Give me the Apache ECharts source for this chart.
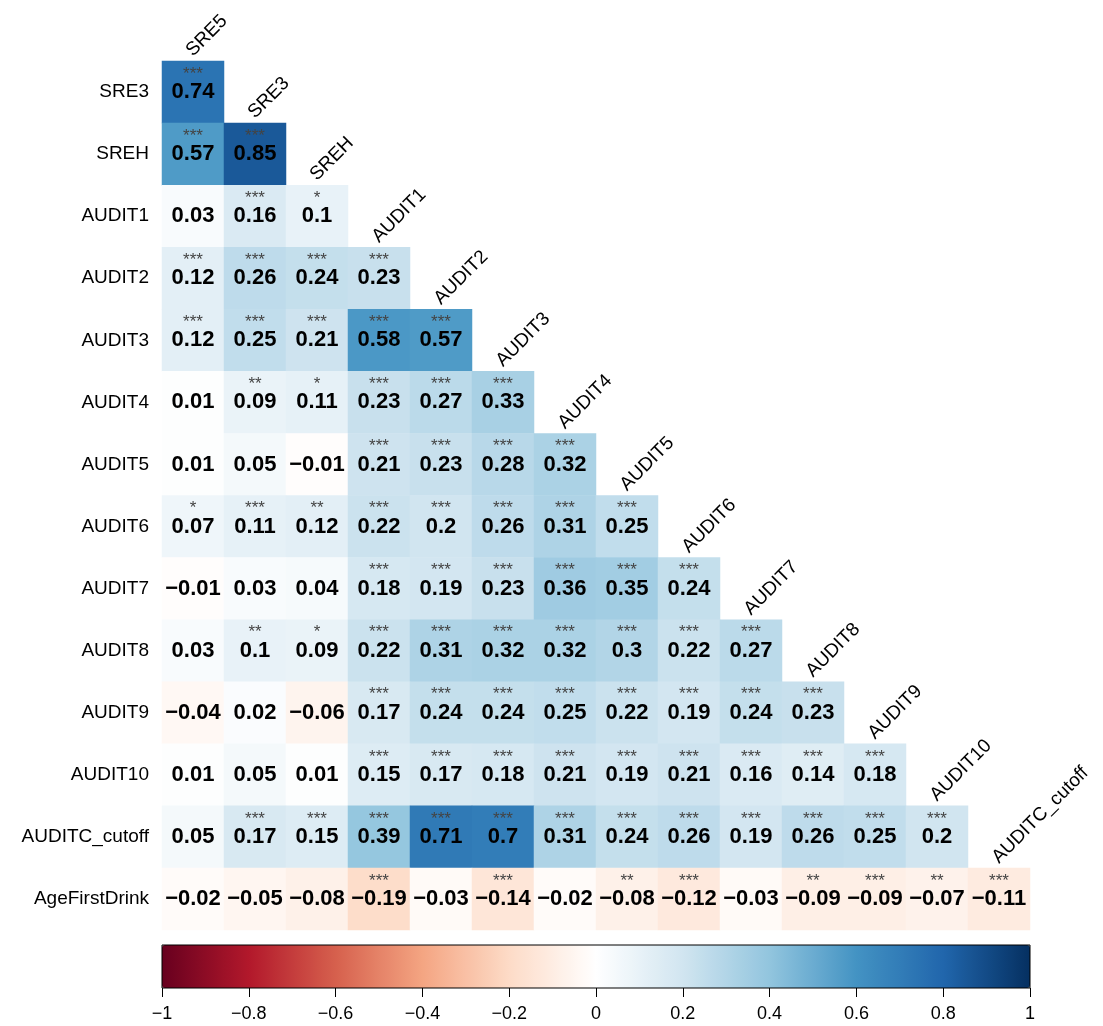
<!DOCTYPE html>
<html>
<head>
<meta charset="utf-8">
<script src="https://cdn.jsdelivr.net/npm/echarts@6/dist/echarts.min.js"></script>
<style>
  html, body { margin: 0; padding: 0; background: #fff; }
  #chart { width: 1103px; height: 1026px; }
</style>
</head>
<body>
<div id="chart"></div>
<script>
// row / column names of the lower triangle
const rowNames = ['SRE3', 'SREH', 'AUDIT1', 'AUDIT2', 'AUDIT3', 'AUDIT4', 'AUDIT5', 'AUDIT6',
  'AUDIT7', 'AUDIT8', 'AUDIT9', 'AUDIT10', 'AUDITC_cutoff', 'AgeFirstDrink'];
const colNames = ['SRE5', 'SRE3', 'SREH', 'AUDIT1', 'AUDIT2', 'AUDIT3', 'AUDIT4', 'AUDIT5',
  'AUDIT6', 'AUDIT7', 'AUDIT8', 'AUDIT9', 'AUDIT10', 'AUDITC_cutoff'];

// correlations, one row each
const corrRows = [
  [0.74],
  [0.57, 0.85],
  [0.03, 0.16, 0.1],
  [0.12, 0.26, 0.24, 0.23],
  [0.12, 0.25, 0.21, 0.58, 0.57],
  [0.01, 0.09, 0.11, 0.23, 0.27, 0.33],
  [0.01, 0.05, -0.01, 0.21, 0.23, 0.28, 0.32],
  [0.07, 0.11, 0.12, 0.22, 0.2, 0.26, 0.31, 0.25],
  [-0.01, 0.03, 0.04, 0.18, 0.19, 0.23, 0.36, 0.35, 0.24],
  [0.03, 0.1, 0.09, 0.22, 0.31, 0.32, 0.32, 0.3, 0.22, 0.27],
  [-0.04, 0.02, -0.06, 0.17, 0.24, 0.24, 0.25, 0.22, 0.19, 0.24, 0.23],
  [0.01, 0.05, 0.01, 0.15, 0.17, 0.18, 0.21, 0.19, 0.21, 0.16, 0.14, 0.18],
  [0.05, 0.17, 0.15, 0.39, 0.71, 0.7, 0.31, 0.24, 0.26, 0.19, 0.26, 0.25, 0.2],
  [-0.02, -0.05, -0.08, -0.19, -0.03, -0.14, -0.02, -0.08, -0.12, -0.03, -0.09, -0.09, -0.07, -0.11]
];

// number of significance stars per cell
const starRows = [
  [3],
  [3, 3],
  [0, 3, 1],
  [3, 3, 3, 3],
  [3, 3, 3, 3, 3],
  [0, 2, 1, 3, 3, 3],
  [0, 0, 0, 3, 3, 3, 3],
  [1, 3, 2, 3, 3, 3, 3, 3],
  [0, 0, 0, 3, 3, 3, 3, 3, 3],
  [0, 2, 1, 3, 3, 3, 3, 3, 3, 3],
  [0, 0, 0, 3, 3, 3, 3, 3, 3, 3, 3],
  [0, 0, 0, 3, 3, 3, 3, 3, 3, 3, 3, 3],
  [0, 3, 3, 3, 3, 3, 3, 3, 3, 3, 3, 3, 3],
  [0, 0, 0, 3, 0, 3, 0, 2, 3, 0, 2, 3, 2, 3]
];

// RdBu palette
const rdbu = ['#67001F', '#B2182B', '#D6604D', '#F4A582', '#FDDBC7', '#FFFFFF',
  '#D1E5F0', '#92C5DE', '#4393C3', '#2166AC', '#053061'];

const FONT = 'Liberation Sans, Arial, Helvetica, sans-serif';
const minus = s => s.replace('-', '\u2212');

const cells = [];
const stars = [];
corrRows.forEach((row, r) => {
  row.forEach((v, c) => {
    cells.push([c, r, v]);
    if (starRows[r][c] > 0) stars.push([c, r, '*'.repeat(starRows[r][c])]);
  });
});
const colLabels = colNames.map((n, c) => [c, c, n]);

const chart = echarts.init(document.getElementById('chart'));
chart.setOption({
  animation: false,
  backgroundColor: '#fff',
  textStyle: { fontFamily: FONT },
  grid: [
    { left: 162, top: 61, width: 868, height: 869 },
    { left: 162, top: 945, width: 868, height: 43, show: true,
      borderColor: '#000', borderWidth: 1, backgroundColor: 'transparent', z: 10 }
  ],
  xAxis: [
    { type: 'category', gridIndex: 0, data: colNames,
      axisLine: { show: false }, axisTick: { show: false }, axisLabel: { show: false },
      splitLine: { show: false } },
    { type: 'value', gridIndex: 1, min: -1, max: 1, interval: 0.2, position: 'bottom',
      axisLine: { show: false },
      axisTick: { show: true, inside: false, length: 9, lineStyle: { color: '#000', width: 1 } },
      axisLabel: { fontSize: 18, color: '#000', margin: 17, fontFamily: FONT,
        formatter: v => Math.abs(v) < 1e-9 ? '0' : minus(String(+v.toFixed(1))) },
      splitLine: { show: false } }
  ],
  yAxis: [
    { type: 'category', gridIndex: 0, data: rowNames, inverse: true,
      axisLine: { show: false }, axisTick: { show: false },
      axisLabel: { fontSize: 19, color: '#000', margin: 13, fontFamily: FONT },
      splitLine: { show: false } },
    { type: 'value', gridIndex: 1, show: false }
  ],
  visualMap: {
    type: 'continuous', seriesIndex: 0, min: -1, max: 1,
    orient: 'horizontal', left: 162, top: 945, padding: 0,
    itemWidth: 43, itemHeight: 868, calculable: false, realtime: false,
    showLabel: false, text: null, hoverLink: false,
    inRange: { color: rdbu }
  },
  series: [
    {
      type: 'heatmap', xAxisIndex: 0, yAxisIndex: 0, data: cells,
      itemStyle: { borderWidth: 0 },
      emphasis: { disabled: true },
      label: {
        show: true, fontSize: 22, fontWeight: 'bold', color: '#000', fontFamily: FONT,
        formatter: p => minus(String(p.value[2]))
      }
    },
    {
      type: 'custom', xAxisIndex: 0, yAxisIndex: 0, data: stars, silent: true, z: 5,
      renderItem: (params, api) => {
        const p = api.coord([api.value(0), api.value(1)]);
        return {
          type: 'text', x: p[0], y: p[1] - 18,
          style: { text: stars[params.dataIndex][2], fill: '#444', fontSize: 17,
            fontFamily: FONT, align: 'center', verticalAlign: 'middle' }
        };
      }
    },
    {
      type: 'custom', xAxisIndex: 0, yAxisIndex: 0, data: colLabels, silent: true, z: 5,
      renderItem: (params, api) => {
        const p = api.coord([api.value(0), api.value(1)]);
        const s = api.size([1, 1]);
        return {
          type: 'text', x: p[0] + 3, y: p[1] - s[1] / 2 - 1, rotation: Math.PI / 4,
          style: { text: colLabels[params.dataIndex][2], fill: '#000', fontSize: 19,
            fontFamily: FONT, align: 'left', verticalAlign: 'bottom' }
        };
      }
    }
  ]
});
</script>
</body>
</html>
